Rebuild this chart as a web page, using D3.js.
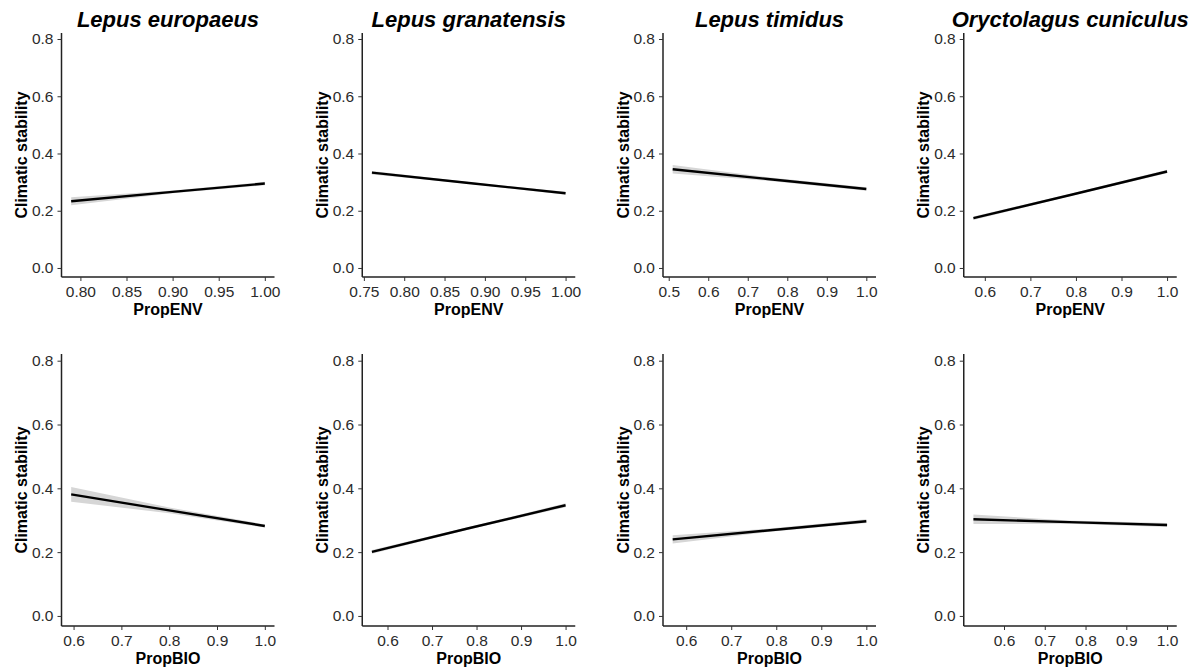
<!DOCTYPE html>
<html>
<head>
<meta charset="utf-8">
<script src="https://cdn.jsdelivr.net/npm/d3@7"></script>
<style>
  body { margin: 0; background: #fff; }
  svg { display: block; font-family: "Liberation Sans", Arial, sans-serif; }
</style>
</head>
<body>
<div id="chart"></div>
<script>
var species = ["Lepus europaeus", "Lepus granatensis", "Lepus timidus", "Oryctolagus cuniculus"];
var rowVars = ["PropENV", "PropBIO"];
var yTicks = [0.0, 0.2, 0.4, 0.6, 0.8];

// x ticks per panel (row 0 = PropENV, row 1 = PropBIO)
var envTicks = [[0.80, 0.85, 0.90, 0.95, 1.00], [0.75, 0.80, 0.85, 0.90, 0.95, 1.00],
                [0.5, 0.6, 0.7, 0.8, 0.9, 1.0], [0.6, 0.7, 0.8, 0.9, 1.0]];
var envDigits = [2, 2, 1, 1];
var bioTicks = [[0.6, 0.7, 0.8, 0.9, 1.0], [0.6, 0.7, 0.8, 0.9, 1.0],
                [0.6, 0.7, 0.8, 0.9, 1.0], [0.6, 0.7, 0.8, 0.9, 1.0]];

// fitted line + confidence band, PropENV
var envX   = [[0.79, 0.90, 1.00], [0.76, 0.88, 1.00], [0.51, 0.75, 1.00], [0.575, 0.79, 1.00]];
var envFit = [[0.233, 0.266, 0.295], [0.333, 0.297, 0.261], [0.345, 0.311, 0.276], [0.174, 0.256, 0.337]];
var envLo  = [[0.219, 0.261, 0.289], [0.327, 0.294, 0.256], [0.330, 0.305, 0.270], [0.168, 0.252, 0.331]];
var envHi  = [[0.247, 0.271, 0.301], [0.339, 0.300, 0.266], [0.360, 0.317, 0.282], [0.180, 0.260, 0.343]];

// fitted line + confidence band, PropBIO
var bioX   = [[0.595, 0.80, 1.00], [0.565, 0.78, 1.00], [0.57, 0.78, 1.00], [0.525, 0.76, 1.00]];
var bioFit = [[0.381, 0.331, 0.282], [0.201, 0.274, 0.347], [0.240, 0.268, 0.297], [0.303, 0.294, 0.285]];
var bioLo  = [[0.358, 0.322, 0.277], [0.195, 0.270, 0.341], [0.227, 0.263, 0.291], [0.288, 0.289, 0.279]];
var bioHi  = [[0.404, 0.340, 0.287], [0.207, 0.278, 0.353], [0.253, 0.273, 0.303], [0.318, 0.299, 0.291]];

var W = 1203, H = 671;
var colW = W / 4;
var rows = [{top: 33, bottom: 277}, {top: 354, bottom: 626}];

var svg = d3.select("#chart").append("svg")
    .attr("width", W)
    .attr("height", H);

function drawPanel(r, c) {
  var xs = r == 0 ? envX[c] : bioX[c];
  var fit = r == 0 ? envFit[c] : bioFit[c];
  var lo = r == 0 ? envLo[c] : bioLo[c];
  var hi = r == 0 ? envHi[c] : bioHi[c];
  var ticks = r == 0 ? envTicks[c] : bioTicks[c];
  var digits = r == 0 ? envDigits[c] : 1;

  var left = c * colW + 61.5, right = c * colW + 274.5;
  var top = rows[r].top, bottom = rows[r].bottom;

  var ext = d3.extent(xs);
  var pad = (ext[1] - ext[0]) * 0.05;
  var x = d3.scaleLinear().domain([ext[0] - pad, ext[1] + pad]).range([left, right]);
  var y = d3.scaleLinear().domain([-0.0315, 0.821]).range([bottom, top]);

  var pts = xs.map(function(d, i) { return {x: d, fit: fit[i], lo: lo[i], hi: hi[i]}; });

  var g = svg.append("g");

  g.append("path")
    .datum(pts)
    .attr("fill", "#d6d6d6")
    .attr("d", d3.area()
      .x(function(d) { return x(d.x); })
      .y0(function(d) { return y(d.lo); })
      .y1(function(d) { return y(d.hi); }));

  g.append("path")
    .datum(pts)
    .attr("fill", "none")
    .attr("stroke", "#000")
    .attr("stroke-width", 2.4)
    .attr("d", d3.line()
      .x(function(d) { return x(d.x); })
      .y(function(d) { return y(d.fit); }));

  var xAxis = g.append("g")
    .attr("transform", "translate(0," + bottom + ")")
    .call(d3.axisBottom(x).tickValues(ticks).tickSize(4).tickPadding(5)
      .tickFormat(d3.format("." + digits + "f")));

  var yAxis = g.append("g")
    .attr("transform", "translate(" + left + ",0)")
    .call(d3.axisLeft(y).tickValues(yTicks).tickSize(4).tickPadding(4)
      .tickFormat(d3.format(".1f")));

  [xAxis, yAxis].forEach(function(a) {
    a.select(".domain").attr("stroke", "#222").attr("stroke-width", 1.5);
    a.selectAll(".tick line").attr("stroke", "#333").attr("stroke-width", 1);
    a.selectAll(".tick text")
      .attr("fill", "#2b2b2b")
      .style("font-size", "15.5px")
      .style("font-family", "Liberation Sans, Arial, sans-serif");
  });
  // ggplot axes don't have the end caps
  xAxis.select(".domain").attr("d", "M" + left + ",0H" + right);
  yAxis.select(".domain").attr("d", "M0," + top + "V" + bottom);

  g.append("text")
    .attr("x", (left + right) / 2)
    .attr("y", bottom + 38)
    .attr("text-anchor", "middle")
    .style("font-size", "16px")
    .style("font-weight", "bold")
    .text(rowVars[r]);

  g.append("text")
    .attr("transform", "translate(" + (c * colW + 27) + "," + ((top + bottom) / 2) + ") rotate(-90)")
    .attr("text-anchor", "middle")
    .style("font-size", "16px")
    .style("font-weight", "bold")
    .text("Climatic stability");

  if (r == 0) {
    g.append("text")
      .attr("x", (left + right) / 2)
      .attr("y", 27)
      .attr("text-anchor", "middle")
      .style("font-size", "22px")
      .style("font-weight", "bold")
      .style("font-style", "italic")
      .text(species[c]);
  }
}

for (var r = 0; r < 2; r++) {
  for (var c = 0; c < 4; c++) {
    drawPanel(r, c);
  }
}
</script>
</body>
</html>
